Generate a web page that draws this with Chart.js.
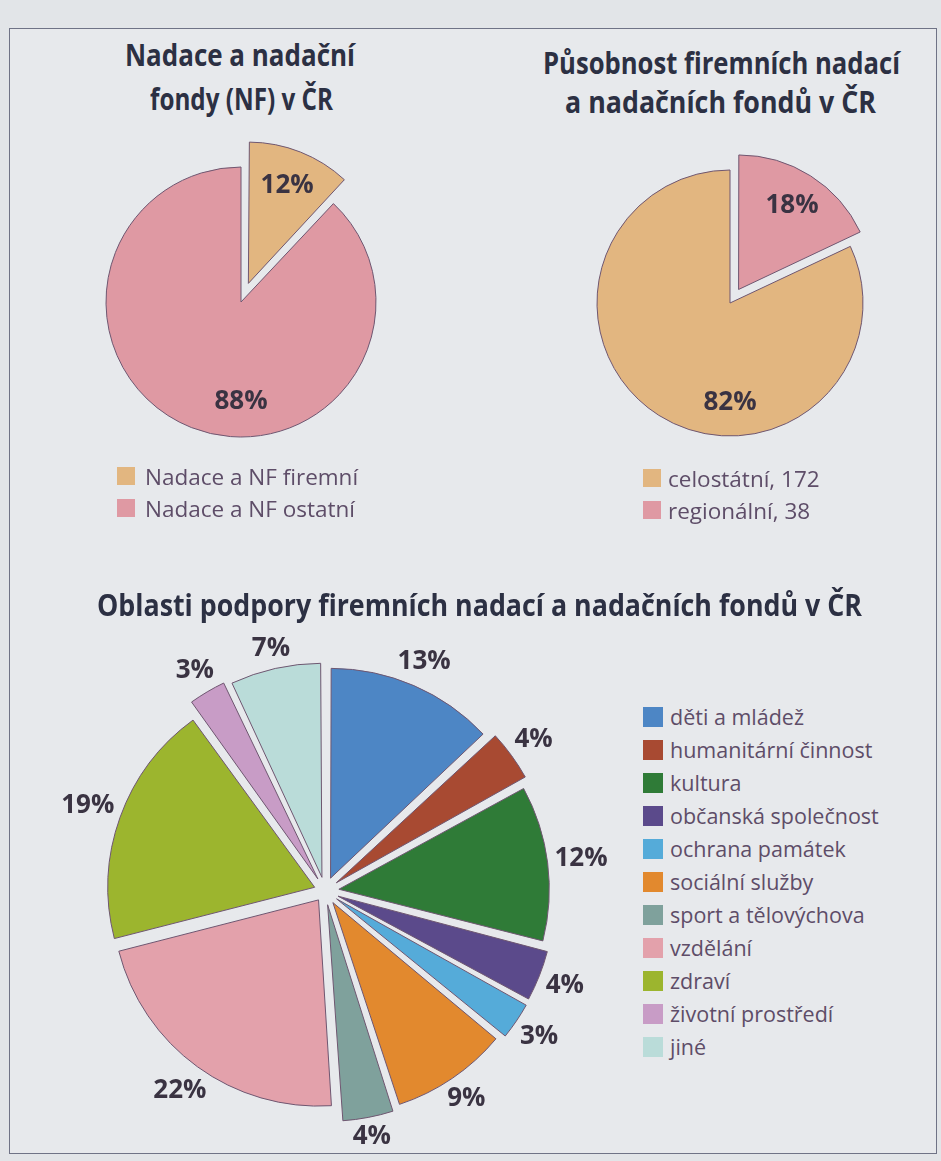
<!DOCTYPE html>
<html lang="cs">
<head>
<meta charset="utf-8">
<script src="https://cdn.jsdelivr.net/npm/chart.js@4.4.1/dist/chart.umd.min.js"></script>
<style>
  html, body { margin: 0; padding: 0; }
  body { width: 941px; height: 1161px; background: #e2e5e8; position: relative; overflow: hidden; font-family: "Open Sans", "Noto Sans", sans-serif; }
  #frame { position: absolute; left: 9px; top: 28px; width: 926px; height: 1124px; border: 1px solid #6f7386; background: #e7e9ec; }
  .title { position: absolute; font-weight: 700; color: #2c3043; font-size: 30px; line-height: 36px; white-space: nowrap; transform-origin: 0 50%; }
  canvas { position: absolute; }
  .legend { position: absolute; color: #5e4d68; }
  .legend .item { display: flex; align-items: center; white-space: nowrap; }
  .legend .sw { flex: none; }
</style>
</head>
<body>
<div id="frame"></div>
<canvas id="pieNF" width="340" height="340" style="left:71px;top:132px"></canvas>
<canvas id="pieScope" width="340" height="340" style="left:560px;top:133px"></canvas>
<canvas id="pieAreas" width="600" height="560" style="left:25px;top:611px"></canvas>
<div id="legNF" class="legend" style="left:117px;top:460px;font-size:22.5px"></div>
<div id="legScope" class="legend" style="left:643px;top:462px;font-size:22.5px"></div>
<div id="legAreas" class="legend" style="left:643px;top:700px;font-size:21.5px"></div>
<script>
// ---------------- data ----------------
const nfTitle = ['Nadace a nadační', 'fondy (NF) v ČR'];
const nfCategories = ['Nadace a NF firemní', 'Nadace a NF ostatní'];
const nfShares = [12, 88];

const scopeTitle = ['Působnost firemních nadací', 'a nadačních fondů v ČR'];
const scopeCategories = ['celostátní', 'regionální'];
const scopeCounts = [172, 38];
const scopeShares = [82, 18];

const areaTitle = 'Oblasti podpory firemních nadací a nadačních fondů v ČR';
const areaCategories = ['děti a mládež', 'humanitární činnost', 'kultura', 'občanská společnost',
  'ochrana památek', 'sociální služby', 'sport a tělovýchova', 'vzdělání', 'zdraví',
  'životní prostředí', 'jiné'];
const areaShares = [13, 4, 12, 4, 3, 9, 4, 22, 19, 3, 7];

// ---------------- styles ----------------
const TAN = '#e2b680', PINK = '#df99a3';
const nfColors = [TAN, PINK];
const scopeColors = [TAN, PINK];
const areaColors = ['#4d86c5', '#a84a32', '#2f7b37', '#5b4a8b', '#55abd9', '#e2892e',
  '#7fa19c', '#e3a1ab', '#9cb52e', '#c89cc6', '#badcd9'];
const nfExplode = [20, 0];
const scopeExplode = [0, 16];
const areaExplode = [14, 14, 14, 14, 14, 14, 14, 11, 11, 14, 14];
const OUTLINE = '#6e5670';
const LABEL_FONT = '700 26px "Open Sans", "Noto Sans", sans-serif';
const LABEL_COLOR = '#3a3342';

// ---------------- percentage labels plugin ----------------
const pctLabels = {
  id: 'pctLabels',
  afterDatasetsDraw(chart, args, o) {
    const ctx = chart.ctx;
    const meta = chart.getDatasetMeta(0);
    const vals = chart.data.datasets[0].data;
    ctx.save();
    ctx.font = LABEL_FONT;
    ctx.fillStyle = LABEL_COLOR;
    ctx.textAlign = 'center';
    ctx.textBaseline = 'middle';
    meta.data.forEach((arc, i) => {
      const p = arc.getProps(['x', 'y', 'startAngle', 'endAngle', 'outerRadius', 'circumference'], true);
      const txt = vals[i] + '%';
      const big = p.circumference > Math.PI;
      const ang = big ? Math.PI / 2 : (p.startAngle + p.endAngle) / 2;
      const shift = (arc.options.offset || 0) / 4;
      let r;
      if (o.outside) {
        // outer edge of the exploded slice, then clear the text box
        const grow = shift * (1 - Math.sin(Math.min(Math.PI, p.circumference)));
        const halfW = ctx.measureText(txt).width / 2, halfH = 10;
        const proj = halfW * Math.abs(Math.cos(ang)) + halfH * Math.abs(Math.sin(ang));
        r = shift + p.outerRadius + grow + o.gap + proj;
      } else {
        r = big ? p.outerRadius * o.bigFactor : shift + p.outerRadius * o.factor;
      }
      ctx.fillText(txt, p.x + Math.cos(ang) * r, p.y + Math.sin(ang) * r);
    });
    ctx.restore();
  }
};

function makePie(id, values, colors, explode, radius, rotation, labelOpts) {
  return new Chart(document.getElementById(id), {
    type: 'pie',
    data: {
      labels: values.map((v, i) => i),
      datasets: [{
        data: values,
        backgroundColor: colors,
        borderColor: OUTLINE,
        borderWidth: 1,
        offset: explode.map(d => d * 4),
        hoverOffset: 0
      }]
    },
    options: {
      responsive: false,
      animation: false,
      events: [],
      radius: radius,
      rotation: rotation,
      layout: { padding: 0 },
      plugins: { legend: { display: false }, tooltip: { enabled: false }, title: { display: false }, pctLabels: labelOpts }
    },
    plugins: [pctLabels]
  });
}

makePie('pieNF', nfShares, nfColors, nfExplode, 135, 0, { factor: 0.78, bigFactor: 0.74 });
const scopeTotal = scopeShares.reduce((a, b) => a + b, 0);
makePie('pieScope', scopeShares, scopeColors, scopeExplode, 133,
  360 * scopeShares[1] / scopeTotal, { factor: 0.75, bigFactor: 0.75 });
makePie('pieAreas', areaShares, areaColors, areaExplode, 206, 0, { outside: true, gap: 6 });

// ---------------- legends ----------------
function buildLegend(id, labels, colors, sw, gap, lineH) {
  const el = document.getElementById(id);
  labels.forEach((t, i) => {
    const it = document.createElement('div');
    it.className = 'item';
    it.style.height = lineH + 'px';
    const s = document.createElement('span');
    s.className = 'sw';
    s.style.cssText = `width:${sw}px;height:${sw}px;background:${colors[i]};margin-right:${gap}px`;
    const tx = document.createElement('span');
    tx.textContent = t;
    it.appendChild(s); it.appendChild(tx);
    el.appendChild(it);
  });
}
buildLegend('legNF', nfCategories, nfColors, 18, 10, 32);
buildLegend('legScope', scopeCategories.map((c, i) => c + ', ' + scopeCounts[i]), scopeColors, 18, 7, 32);
buildLegend('legAreas', areaCategories, areaColors, 20, 7, 33);

// ---------------- titles ----------------
function placeTitle(text, cx, cy, w) {
  const d = document.createElement('div');
  d.className = 'title';
  d.textContent = text;
  document.body.appendChild(d);
  const nat = d.getBoundingClientRect().width;
  const s = w / nat;
  d.style.left = (cx - w / 2) + 'px';
  d.style.top = (cy - 18) + 'px';
  d.style.transform = `scaleX(${s})`;
}
placeTitle(nfTitle[0], 240, 55, 230);
placeTitle(nfTitle[1], 241, 99, 183);
placeTitle(scopeTitle[0], 721, 63, 357);
placeTitle(scopeTitle[1], 720, 102, 311);
placeTitle(areaTitle, 479, 605, 765);
</script>
</body>
</html>
